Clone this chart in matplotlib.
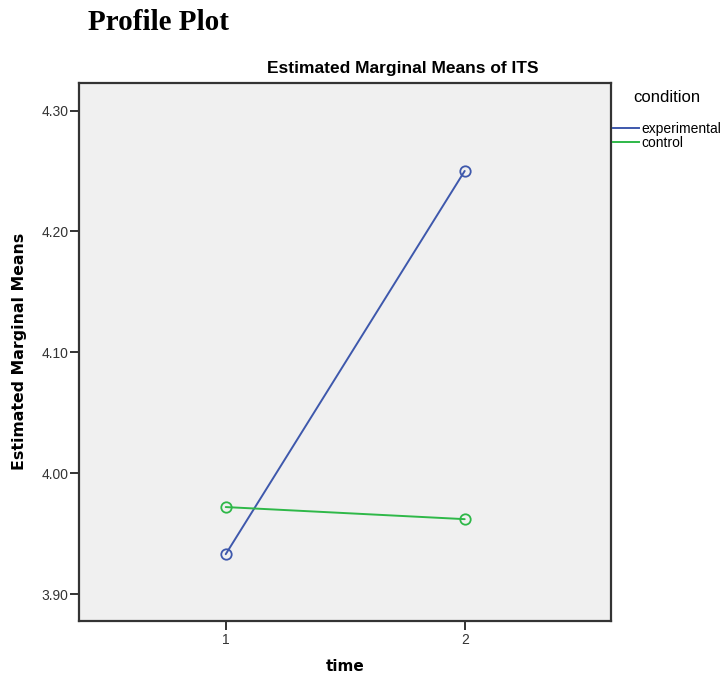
import numpy as np
import matplotlib
matplotlib.use("Agg")
import matplotlib.pyplot as plt
from matplotlib.lines import Line2D

# data
time_points = [1, 2]
conditions = ["experimental", "control"]
experimental = [3.933, 4.250]
control = [3.972, 3.962]
yticks = [3.90, 4.00, 4.10, 4.20, 4.30]
colors = {"experimental": "#3E58AC", "control": "#2EB848"}

W, H = 725, 682
fig = plt.figure(figsize=(W / 100, H / 100), dpi=100)
ax = fig.add_axes([79 / W, 1 - 620.7 / H, (610.7 - 79) / W, (620.7 - 82.7) / H])
ax.set_facecolor("#F0F0F0")

series = {"experimental": experimental, "control": control}
for name in conditions:
    ax.plot(time_points, series[name], color=colors[name], lw=1.4,
            marker="o", markersize=7.5, markerfacecolor="none",
            markeredgewidth=1.3, solid_capstyle="round")

ax.set_xlim(0.386, 2.611)
ax.set_ylim(3.878, 4.323)
ax.set_xticks(time_points)
ax.set_yticks(yticks)
ax.set_yticklabels([f"{v:.2f}" for v in yticks])

for sp in ax.spines.values():
    sp.set_color("#333333")
    sp.set_linewidth(1.6)
ax.tick_params(axis="both", length=6.5, width=1.4, color="#333333",
               labelcolor="#333333", labelsize=10)
ax.tick_params(axis="y", pad=1)
ax.tick_params(axis="x", pad=2)
for lab in ax.get_xticklabels() + ax.get_yticklabels():
    lab.set_family("Liberation Sans")

ax.set_xlabel("time", fontsize=11, fontweight="bold", family="DejaVu Sans")
ax.xaxis.set_label_coords(0.5, -0.072)
ax.set_ylabel("Estimated Marginal Means", fontsize=11.3, fontweight="bold",
              family="DejaVu Sans")
ax.yaxis.set_label_coords(-0.097, 0.5)

fig.text(88 / W, 1 - 23 / H, "Profile Plot", fontsize=21, fontweight="bold",
         family="Liberation Serif", va="center", ha="left")
fig.text(403 / W, 1 - 68 / H, "Estimated Marginal Means of ITS", fontsize=12.5,
         fontweight="bold", family="Liberation Sans", va="center", ha="center")

handles = [Line2D([], [], color=colors[n], lw=1.4) for n in conditions]
leg = fig.legend(handles, conditions, title="condition", loc="upper left",
                 bbox_to_anchor=(613 / W, 1 - 90 / H), frameon=False,
                 prop={"family": "Liberation Sans", "size": 10},
                 title_fontproperties={"family": "Liberation Sans", "size": 12},
                 handlelength=1.9, handletextpad=0.15, labelspacing=0.05,
                 borderpad=0, borderaxespad=0)
leg._legend_box.sep = 12

fig.savefig("out.png", dpi=100)
